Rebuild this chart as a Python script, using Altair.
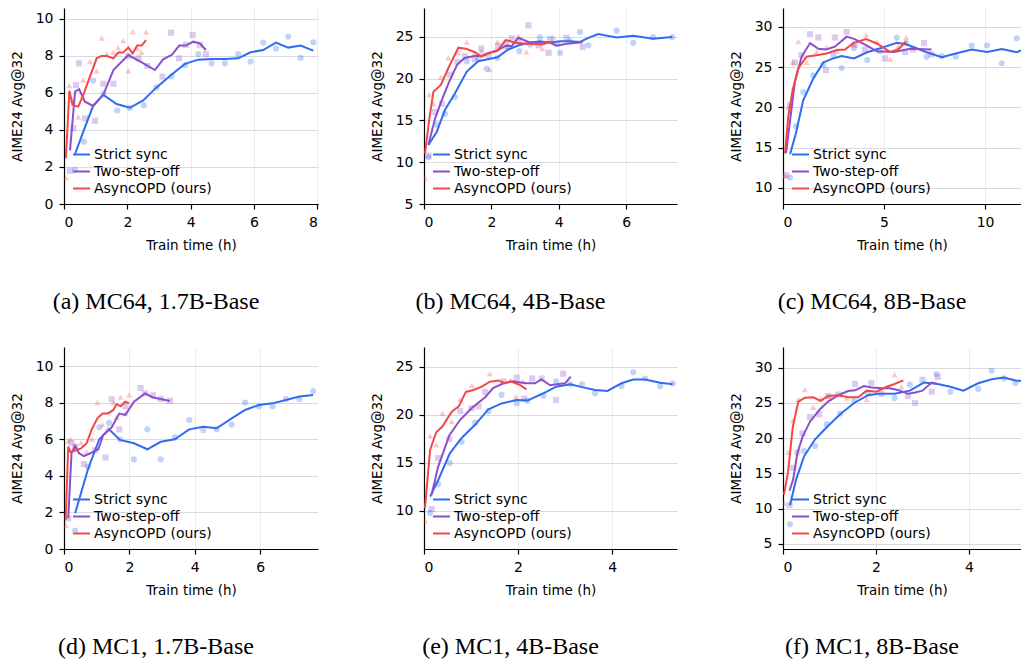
import altair as alt
import pandas as pd

SERIES = ["Strict sync", "Two-step-off", "AsyncOPD (ours)"]
COLORS = ["#2f6cf0", "#8c4fcc", "#f24848"]
SHAPES = ["circle", "square", "triangle-up"]
CAPTIONS = ["(a) MC64, 1.7B-Base", "(b) MC64, 4B-Base", "(c) MC64, 8B-Base",
            "(d) MC1, 1.7B-Base", "(e) MC1, 4B-Base", "(f) MC1, 8B-Base"]
X_TITLE = "Train time (h)"
Y_TITLE = "AIME24 Avg@32"

# ---------- (a) MC64, 1.7B-Base ----------
A_SYNC = [(0.35, 2.7), (0.63, 4.0), (0.92, 5.3), (1.24, 5.9), (1.66, 5.4), (2.08, 5.2), (2.5, 5.6),
          (2.92, 6.3), (3.4, 7.0), (3.82, 7.57), (4.24, 7.8), (4.66, 7.84), (5.08, 7.84), (5.5, 7.87),
          (5.89, 8.2), (6.29, 8.32), (6.69, 8.72), (7.08, 8.45), (7.47, 8.56), (7.87, 8.29)]
A_SYNC_PTS = [(0.35, 1.84), (0.63, 3.37), (0.92, 6.67), (1.24, 5.95), (1.68, 5.05), (2.08, 5.2),
              (2.52, 5.33), (2.92, 6.3), (3.4, 6.9), (3.82, 7.5), (4.24, 8.1), (4.66, 7.6),
              (5.08, 7.6), (5.5, 8.1), (5.89, 7.7), (6.29, 8.72), (6.69, 8.4), (7.08, 9.05),
              (7.47, 7.9), (7.87, 8.74)]
A_TWO = [(0.19, 2.9), (0.35, 6.07), (0.48, 6.2), (0.66, 5.53), (0.92, 5.3), (1.24, 5.9), (1.56, 7.24),
         (2.03, 8.05), (2.4, 7.7), (2.87, 7.24), (3.13, 7.82), (3.4, 8.05), (3.64, 8.56), (3.85, 8.56),
         (4.08, 8.77), (4.29, 8.68), (4.48, 8.32)]
A_TWO_PTS = [(0.19, 1.8), (0.29, 4.1), (0.38, 6.43), (0.47, 7.6), (0.66, 4.63), (0.98, 4.5), (1.24, 6.5),
             (1.56, 6.5), (2.03, 8.0), (2.35, 7.87), (2.63, 7.46), (3.11, 6.88), (3.38, 9.26),
             (3.63, 7.87), (3.85, 8.6), (4.06, 9.14), (4.29, 8.6), (4.48, 8.1)]
A_ASYNC = [(0.06, 2.47), (0.17, 6.12), (0.27, 5.35), (0.45, 5.26), (0.61, 5.9), (0.82, 6.88), (1.03, 7.87),
           (1.19, 8.0), (1.35, 8.0), (1.56, 7.87), (1.71, 8.18), (1.87, 8.18), (2.03, 8.45), (2.17, 8.14),
           (2.31, 8.56), (2.45, 8.56), (2.59, 8.86)]
A_ASYNC_PTS = [(0.06, 1.4), (0.17, 6.4), (0.27, 5.6), (0.45, 4.7), (0.61, 6.7), (0.82, 7.7), (1.03, 7.2),
               (1.19, 8.96), (1.35, 8.1), (1.56, 8.2), (1.71, 8.45), (1.87, 8.83), (2.03, 7.2),
               (2.17, 9.32), (2.31, 8.4), (2.45, 8.2), (2.59, 9.29)]

# ---------- (b) MC64, 4B-Base ----------
B_SYNC = [(0.13, 12.07), (0.38, 13.66), (0.62, 16.26), (0.92, 18.26), (1.27, 20.85), (1.61, 22.1),
          (1.86, 22.3), (2.18, 22.57), (2.5, 23.5), (2.83, 24.04), (3.15, 24.3), (3.44, 24.5),
          (3.74, 24.3), (4.04, 24.5), (4.33, 24.5), (4.63, 24.4), (4.88, 24.9), (5.17, 25.36),
          (5.72, 24.95), (6.21, 25.16), (6.8, 24.8), (7.37, 25.0)]
B_SYNC_PTS = [(0.13, 10.6), (0.38, 14.5), (0.62, 15.8), (0.92, 17.8), (1.27, 22.1), (1.61, 22.4),
              (1.86, 21.2), (2.18, 22.5), (2.5, 23.8), (2.83, 23.3), (3.15, 24.1), (3.44, 24.96),
              (3.74, 24.8), (4.04, 23.1), (4.33, 24.5), (4.63, 25.6), (4.88, 24.0), (5.72, 25.76),
              (6.21, 24.3), (6.8, 25.0), (7.37, 25.0)]
B_TWO = [(0.13, 12.07), (0.33, 15.26), (0.53, 17.46), (0.77, 19.85), (0.99, 21.73), (1.22, 22.52),
         (1.51, 22.72), (1.7, 22.72), (1.91, 23.05), (2.2, 23.44), (2.43, 23.96), (2.6, 23.9), (2.8, 24.9),
         (3.1, 24.4), (3.4, 24.3), (3.7, 24.4), (3.94, 23.96), (4.23, 24.2), (4.71, 24.36)]
B_TWO_PTS = [(0.13, 10.8), (0.33, 16.0), (0.53, 17.0), (0.77, 20.5), (0.99, 22.0), (1.22, 22.7),
             (1.51, 22.3), (1.7, 23.6), (1.91, 22.8), (2.2, 23.9), (2.43, 24.2), (2.6, 24.84),
             (2.8, 24.5), (3.1, 26.4), (3.4, 24.0), (3.7, 23.1), (3.94, 24.2), (4.23, 24.9), (4.71, 23.8)]
B_ASYNC = [(0.03, 11.07), (0.16, 15.26), (0.28, 18.45), (0.5, 19.25), (0.72, 21.25), (1.02, 23.72),
           (1.27, 23.56), (1.51, 23.17), (1.71, 22.64), (1.95, 23.1), (2.18, 23.35), (2.43, 24.64),
           (2.7, 24.3), (3.04, 24.2), (3.51, 24.1), (3.84, 24.5)]
B_ASYNC_PTS = [(0.03, 8.1), (0.16, 18.1), (0.28, 17.0), (0.5, 20.2), (0.72, 22.5), (1.02, 23.1),
               (1.27, 24.4), (1.51, 23.0), (1.71, 23.3), (1.95, 21.1), (2.18, 24.4), (2.43, 23.8),
               (2.8, 25.1), (3.04, 23.2), (3.51, 23.6), (3.84, 25.0)]

# ---------- (c) MC64, 8B-Base ----------
C_SYNC = [(0.35, 14.2), (0.64, 16.8), (1.0, 20.9), (1.5, 23.6), (2.0, 25.6), (2.49, 26.1), (2.9, 26.4),
          (3.51, 26.1), (4.17, 26.86), (4.8, 27.35), (5.63, 28.05), (6.1, 27.85), (7.11, 26.86),
          (7.86, 26.24), (8.55, 26.7), (9.34, 27.2), (10.1, 26.9), (10.83, 27.27), (11.57, 26.86),
          (12.14, 27.48)]
C_SYNC_PTS = [(0.35, 11.3), (0.64, 17.7), (1.0, 21.9), (1.5, 24.0), (2.0, 25.3), (2.49, 26.5),
              (2.9, 24.9), (3.51, 27.4), (4.17, 25.9), (4.8, 27.0), (5.63, 28.7), (6.1, 28.0),
              (7.11, 26.3), (7.86, 26.4), (8.55, 26.3), (9.34, 27.7), (10.1, 27.7), (10.83, 25.5),
              (11.57, 28.6)]
C_TWO = [(0.15, 14.3), (0.35, 18.4), (0.59, 23.2), (0.92, 26.3), (1.34, 28.0), (1.75, 27.3), (2.13, 27.2),
         (2.57, 27.55), (3.15, 28.8), (3.55, 28.5), (4.06, 27.8), (4.64, 27.0), (5.5, 26.9), (6.3, 27.3),
         (7.35, 27.2)]
C_TWO_PTS = [(0.15, 11.6), (0.35, 20.3), (0.59, 25.6), (0.92, 26.5), (1.34, 29.1), (1.75, 28.7),
             (2.13, 24.65), (2.57, 28.7), (3.15, 29.4), (3.55, 27.8), (4.06, 27.2), (5.05, 26.1),
             (6.04, 26.9), (6.44, 27.2), (6.98, 28.0), (7.35, 26.6)]
C_ASYNC = [(0.1, 14.3), (0.26, 18.85), (0.48, 22.2), (0.76, 24.9), (1.17, 26.3), (1.66, 26.5),
           (2.16, 26.7), (2.66, 27.15), (3.07, 27.2), (3.48, 28.0), (4.11, 28.5), (4.64, 27.95),
           (5.3, 26.9), (5.7, 27.2), (6.09, 28.2)]
C_ASYNC_PTS = [(0.1, 11.5), (0.26, 20.0), (0.48, 25.6), (0.76, 28.2), (1.17, 25.6), (1.66, 26.9),
               (2.16, 27.5), (2.66, 27.0), (3.48, 27.9), (4.11, 29.0), (4.64, 28.2), (5.3, 26.0),
               (5.7, 27.6), (6.09, 28.7)]

# ---------- (d) MC1, 1.7B-Base ----------
D_SYNC = [(0.34, 1.95), (0.74, 4.4), (1.08, 6.0), (1.38, 6.54), (1.71, 5.96), (2.14, 5.78), (2.55, 5.45),
          (2.96, 5.86), (3.39, 6.0), (3.83, 6.54), (4.26, 6.68), (4.67, 6.6), (5.13, 7.14), (5.54, 7.6),
          (5.96, 7.87), (6.38, 7.96), (6.79, 8.14), (7.2, 8.33), (7.62, 8.42)]
D_SYNC_PTS = [(0.34, 1.0), (0.74, 4.5), (1.08, 6.65), (1.38, 6.9), (1.71, 6.0), (2.14, 4.9), (2.55, 6.54),
              (2.96, 4.9), (3.39, 6.1), (3.83, 7.05), (4.26, 6.5), (4.67, 6.55), (5.13, 6.8),
              (5.54, 8.0), (5.96, 7.8), (6.38, 7.8), (6.79, 8.2), (7.2, 8.2), (7.62, 8.63)]
D_TWO = [(0.13, 1.68), (0.23, 5.23), (0.34, 5.63), (0.46, 5.23), (0.61, 5.08), (0.84, 5.26), (1.05, 5.45),
         (1.2, 6.23), (1.46, 6.65), (1.69, 7.4), (1.88, 7.33), (2.14, 8.05), (2.48, 8.5), (2.72, 8.28),
         (2.96, 8.2), (3.24, 8.09)]
D_TWO_PTS = [(0.13, 1.68), (0.23, 5.8), (0.34, 5.6), (0.61, 4.64), (0.95, 5.4), (1.27, 5.0), (1.46, 8.18),
             (1.69, 6.54), (1.88, 7.8), (2.34, 8.8), (2.48, 8.5), (2.72, 8.4), (2.96, 8.2), (3.24, 8.1)]
D_ASYNC = [(0.05, 1.58), (0.13, 5.6), (0.2, 5.3), (0.37, 5.4), (0.52, 5.5), (0.69, 5.78), (0.85, 6.54),
           (1.02, 7.14), (1.18, 7.41), (1.35, 7.41), (1.51, 7.6), (1.61, 7.92), (1.73, 7.8), (1.87, 8.05),
           (1.99, 7.96)]
D_ASYNC_PTS = [(0.05, 1.3), (0.13, 5.9), (0.2, 6.0), (0.37, 5.5), (0.52, 5.8), (0.69, 5.3), (0.85, 6.0),
               (1.02, 8.0), (1.18, 6.8), (1.35, 6.6), (1.51, 8.0), (1.61, 7.2), (1.73, 8.3), (1.87, 7.4),
               (1.99, 8.42)]

# ---------- (e) MC1, 4B-Base ----------
E_SYNC = [(0.13, 11.5), (0.3, 13.2), (0.55, 16.0), (0.8, 17.6), (1.09, 19.0), (1.37, 20.6), (1.65, 21.2),
          (1.97, 21.56), (2.2, 21.5), (2.54, 22.26), (2.81, 22.95), (3.11, 23.2), (3.36, 22.9),
          (3.64, 22.6), (3.9, 22.5), (4.2, 23.3), (4.45, 23.7), (4.7, 23.7), (5.02, 23.36), (5.29, 23.2)]
E_SYNC_PTS = [(0.13, 9.8), (0.3, 12.8), (0.55, 15.0), (0.8, 17.2), (1.09, 19.2), (1.37, 20.4),
              (1.65, 22.1), (1.97, 21.2), (2.2, 21.5), (2.54, 22.0), (2.81, 23.5), (3.11, 23.2),
              (3.36, 23.2), (3.64, 22.26), (4.2, 23.0), (4.45, 24.45), (4.7, 23.8), (5.02, 23.0),
              (5.29, 23.3)]
E_TWO = [(0.16, 11.67), (0.3, 14.6), (0.54, 17.9), (0.77, 19.5), (1.01, 20.7), (1.3, 21.85), (1.47, 22.8),
         (1.69, 23.3), (1.9, 23.5), (2.16, 23.3), (2.36, 23.3), (2.5, 23.7), (2.68, 23.1), (2.82, 23.2),
         (3.0, 23.3), (3.12, 24.0)]
E_TWO_PTS = [(0.16, 10.2), (0.3, 15.5), (0.54, 17.5), (0.77, 20.4), (1.01, 20.7), (1.16, 20.9),
             (1.3, 22.4), (1.69, 23.5), (1.97, 23.9), (2.13, 21.7), (2.3, 23.8), (2.5, 23.8),
             (2.81, 21.56), (2.96, 24.3)]
E_ASYNC = [(0.02, 10.3), (0.13, 16.35), (0.26, 18.2), (0.39, 18.8), (0.59, 20.35), (0.74, 20.9),
           (0.89, 22.4), (1.05, 22.6), (1.23, 22.95), (1.4, 23.47), (1.58, 23.6), (1.72, 23.3),
           (1.84, 23.5), (2.03, 23.15), (2.18, 22.67)]
E_ASYNC_PTS = [(0.02, 9.0), (0.13, 17.8), (0.26, 16.9), (0.39, 20.2), (0.59, 19.3), (0.77, 21.6),
               (1.02, 23.1), (1.4, 24.3), (1.84, 23.6), (1.95, 21.9), (2.1, 23.5)]

# ---------- (f) MC1, 8B-Base ----------
F_SYNC = [(0.15, 10.5), (0.28, 14.1), (0.45, 17.4), (0.69, 19.85), (0.94, 21.55), (1.23, 23.4),
          (1.53, 25.0), (1.83, 26.1), (2.05, 26.3), (2.4, 26.3), (2.73, 26.75), (3.03, 27.9),
          (3.33, 27.7), (3.6, 27.3), (3.88, 26.75), (4.2, 27.8), (4.49, 28.36), (4.75, 28.6),
          (5.0, 28.2), (5.28, 28.0)]
F_SYNC_PTS = [(0.15, 7.8), (0.45, 18.2), (0.69, 18.9), (0.94, 22.0), (1.23, 23.5), (1.53, 25.3),
              (1.83, 26.3), (2.4, 25.7), (2.73, 27.6), (3.3, 29.1), (3.6, 26.6), (4.2, 27.0),
              (4.49, 29.6), (4.75, 28.5), (5.0, 27.8), (5.28, 28.0)]
F_TWO = [(0.14, 12.56), (0.22, 14.2), (0.31, 17.9), (0.42, 20.2), (0.58, 22.35), (0.78, 24.0),
         (0.97, 25.2), (1.19, 26.1), (1.4, 26.7), (1.55, 26.8), (1.74, 27.4), (1.9, 27.2), (2.12, 27.1),
         (2.3, 27.1), (2.49, 26.8), (2.69, 26.3), (2.84, 26.5), (3.0, 26.75), (3.2, 27.9), (3.33, 27.7)]
F_TWO_PTS = [(0.14, 10.5), (0.22, 15.8), (0.31, 18.0), (0.42, 20.7), (0.58, 23.0), (0.78, 23.4),
             (0.97, 26.0), (1.19, 26.2), (1.55, 27.7), (1.9, 27.8), (2.12, 26.3), (2.69, 26.0),
             (2.84, 25.0), (3.0, 28.3), (3.2, 26.6), (3.33, 28.7)]
F_ASYNC = [(0.02, 12.0), (0.11, 15.25), (0.21, 21.6), (0.33, 25.2), (0.47, 25.75), (0.65, 25.8),
           (0.81, 25.3), (0.97, 26.0), (1.19, 26.1), (1.4, 25.8), (1.62, 25.8), (1.8, 26.75),
           (2.01, 26.6), (2.23, 27.3), (2.4, 27.7), (2.59, 28.2)]
F_ASYNC_PTS = [(0.02, 10.8), (0.11, 18.0), (0.21, 22.5), (0.33, 25.5), (0.47, 26.9), (0.65, 24.4),
               (0.81, 25.6), (0.99, 25.9), (1.37, 25.7), (1.8, 25.5), (2.4, 29.0), (2.55, 27.3)]

# axis ticks per panel
X_TICKS = [[0, 2, 4, 6, 8], [0, 2, 4, 6], [0, 5, 10], [0, 2, 4, 6], [0, 2, 4], [0, 2, 4]]
Y_TICKS = [[0, 2, 4, 6, 8, 10], [5, 10, 15, 20, 25], [10, 15, 20, 25, 30],
           [0, 2, 4, 6, 8, 10], [10, 15, 20, 25], [5, 10, 15, 20, 25, 30]]
X_DOMAINS = [[0, 8.02], [0, 7.51], [0, 11.78], [0, 7.77], [0, 5.38], [0, 5.12]]
Y_DOMAINS = [[0, 10.59], [5, 28.47], [8.01, 32.36], [0, 11.04], [6.04, 27.08], [4.29, 32.94]]

LINES = [(A_SYNC, A_TWO, A_ASYNC), (B_SYNC, B_TWO, B_ASYNC), (C_SYNC, C_TWO, C_ASYNC),
         (D_SYNC, D_TWO, D_ASYNC), (E_SYNC, E_TWO, E_ASYNC), (F_SYNC, F_TWO, F_ASYNC)]
POINTS = [(A_SYNC_PTS, A_TWO_PTS, A_ASYNC_PTS), (B_SYNC_PTS, B_TWO_PTS, B_ASYNC_PTS),
          (C_SYNC_PTS, C_TWO_PTS, C_ASYNC_PTS), (D_SYNC_PTS, D_TWO_PTS, D_ASYNC_PTS),
          (E_SYNC_PTS, E_TWO_PTS, E_ASYNC_PTS), (F_SYNC_PTS, F_TWO_PTS, F_ASYNC_PTS)]

WIDTHS = [254, 253, 238, 254, 253, 238]
HEIGHTS = [196, 196, 196, 202, 202, 202]
CAPTION_DX = [-35, -40, -30, -35, -40, -30]


def panel(k):
    xs = alt.Scale(domain=X_DOMAINS[k], nice=False, zero=False)
    ys = alt.Scale(domain=Y_DOMAINS[k], nice=False, zero=False)
    xax = alt.Axis(values=X_TICKS[k], title=X_TITLE, format="d")
    yax = alt.Axis(values=Y_TICKS[k], title=Y_TITLE, format="d", titleX=-47, titleBaseline="middle")
    layers = []
    for s, col, shp, pts in zip(SERIES, COLORS, SHAPES, POINTS[k]):
        df = pd.DataFrame(pts, columns=["x", "y"])
        layers.append(
            alt.Chart(df).mark_point(shape=shp, filled=True, color=col, opacity=0.3,
                                     size=38, strokeWidth=0, clip=True)
            .encode(x=alt.X("x:Q", scale=xs, axis=xax), y=alt.Y("y:Q", scale=ys, axis=yax))
        )
    rows = []
    for s, pts in zip(SERIES, LINES[k]):
        for i, (x, y) in enumerate(pts):
            rows.append({"series": s, "x": x, "y": y, "i": i})
    ldf = pd.DataFrame(rows)
    lines = alt.Chart(ldf).mark_line(strokeWidth=2, clip=True).encode(
        x=alt.X("x:Q", scale=xs, axis=xax),
        y=alt.Y("y:Q", scale=ys, axis=yax),
        color=alt.Color("series:N", scale=alt.Scale(domain=SERIES, range=COLORS),
                        legend=alt.Legend(title=None, orient="bottom-left", offset=8, padding=0,
                                          labelFontSize=14, labelFont="DejaVu Sans",
                                          labelColor="black", symbolType="stroke",
                                          symbolSize=289, symbolStrokeWidth=2,
                                          rowPadding=0, labelOffset=3)),
        order=alt.Order("i:Q"),
    )
    layers.append(lines)
    return alt.layer(*layers).properties(
        width=WIDTHS[k], height=HEIGHTS[k],
        title=alt.TitleParams(CAPTIONS[k], orient="bottom", anchor="middle", frame="group",
                              offset=38, dx=CAPTION_DX[k], font="Liberation Serif",
                              fontSize=24, fontWeight="normal", color="black"),
    )


chart = alt.concat(*[panel(k) for k in range(6)], columns=3,
                   spacing={"row": 143, "column": 106}, bounds="flush") \
    .resolve_scale(color="independent").resolve_legend(color="independent") \
    .properties(padding={"left": 2, "top": 0, "right": 0, "bottom": 0}) \
    .configure_view(stroke=None) \
    .configure_axis(domainColor="black", tickColor="black", labelColor="black", titleColor="black",
                    labelFont="DejaVu Sans", titleFont="DejaVu Sans", labelFontSize=14,
                    titleFontSize=13.5, titleFontWeight="normal", tickSize=5, domainWidth=1.2,
                    tickWidth=1.2, gridWidth=1) \
    .configure_axisX(gridColor="#ececec", labelPadding=6, titlePadding=9) \
    .configure_axisY(gridColor="#d6dbe3", labelPadding=6)

chart.save("out.html", embed_options={"renderer": "svg", "actions": False})
